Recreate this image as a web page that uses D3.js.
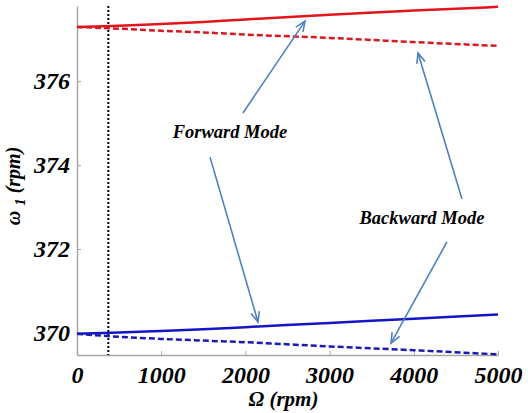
<!DOCTYPE html>
<html>
<head>
<meta charset="utf-8">
<script src="https://d3js.org/d3.v7.min.js"></script>
<style>
  body { margin: 0; background: #fff; }
</style>
</head>
<body>
<div id="chart"></div>
<script>
// spin speed Omega (rpm)
var omega = [0, 500, 1000, 1500, 2000, 3000, 4000, 5000];
// first natural frequency w1 (rpm)
var redForward  = [377.29, 377.32, 377.36, 377.41, 377.47, 377.58, 377.68, 377.77];
var redBackward = [377.29, 377.25, 377.20, 377.16, 377.11, 377.03, 376.93, 376.84];
var blueForward  = [369.98, 370.01, 370.05, 370.09, 370.14, 370.24, 370.34, 370.44];
var blueBackward = [369.98, 369.91, 369.86, 369.82, 369.78, 369.68, 369.59, 369.49];
var criticalSpeed = 372;

var xTicks = [0, 1000, 2000, 3000, 4000, 5000];
var yTicks = [370, 372, 374, 376];

// annotation labels and arrows (data units)
var labels = [
  {text: "Forward Mode", x: 1817, y: 374.79},
  {text: "Backward Mode", x: 4097, y: 372.76}
];
var arrows = [
  {x1: 1971, y1: 375.24, x2: 2708, y2: 377.43},
  {x1: 1580, y1: 374.19, x2: 2150, y2: 370.26},
  {x1: 4572, y1: 373.19, x2: 4050, y2: 376.67},
  {x1: 4394, y1: 372.17, x2: 3729, y2: 369.76}
];

var serif = "'Liberation Serif', 'Times New Roman', 'DejaVu Serif', serif";

var svgWidth = 528, svgHeight = 413;
var margin = {top: 6, right: 30, bottom: 58, left: 77};
var chartWidth = svgWidth - margin.left - margin.right;
var chartHeight = svgHeight - margin.top - margin.bottom;

var svg = d3.select("#chart").append("svg")
  .attr("width", svgWidth)
  .attr("height", svgHeight);

var chartGroup = svg.append("g")
  .attr("transform", `translate(${margin.left}, ${margin.top})`);

var xScale = d3.scaleLinear().domain([0, 5000]).range([0, chartWidth]);
var yScale = d3.scaleLinear().domain([369.476, 377.79]).range([chartHeight, 0]);

function styleText(sel, size) {
  sel.style("font-family", serif)
    .style("font-weight", "bold")
    .style("font-style", "italic")
    .style("font-size", size)
    .attr("fill", "#000");
}

// axes
var bottomAxis = d3.axisBottom(xScale).tickValues(xTicks).tickFormat(d3.format("d"))
  .tickSizeInner(-4).tickSizeOuter(0).tickPadding(11);
var leftAxis = d3.axisLeft(yScale).tickValues(yTicks).tickFormat(d3.format("d"))
  .tickSizeInner(-4).tickSizeOuter(0).tickPadding(7);

var gx = chartGroup.append("g")
  .attr("transform", `translate(0, ${chartHeight})`)
  .call(bottomAxis);
var gy = chartGroup.append("g").call(leftAxis);

[gx, gy].forEach(function(g) {
  g.select(".domain").attr("stroke", "#a6a6a6").attr("stroke-width", 1.5);
  g.selectAll(".tick line").attr("stroke", "#a6a6a6");
  styleText(g.selectAll(".tick text"), "24px");
});

// critical speed marker
chartGroup.append("line")
  .attr("x1", xScale(criticalSpeed)).attr("x2", xScale(criticalSpeed))
  .attr("y1", 0).attr("y2", chartHeight)
  .attr("stroke", "#000")
  .attr("stroke-width", 2)
  .attr("stroke-dasharray", "2,2");

var line = d3.line()
  .x(function(d) { return xScale(d[0]); })
  .y(function(d) { return yScale(d[1]); })
  .curve(d3.curveMonotoneX);

var series = [
  {vals: redForward, color: "#e3141b", dash: null},
  {vals: redBackward, color: "#d61a22", dash: "6,3"},
  {vals: blueForward, color: "#1414c8", dash: null},
  {vals: blueBackward, color: "#1a1ab4", dash: "6,3"}
];

series.forEach(function(s) {
  chartGroup.append("path")
    .datum(omega.map(function(o, i) { return [o, s.vals[i]]; }))
    .attr("fill", "none")
    .attr("stroke", s.color)
    .attr("stroke-width", 2.5)
    .attr("stroke-dasharray", s.dash)
    .attr("d", line);
});

// arrows
var arrowColor = "#4f81bd";
arrows.forEach(function(a) {
  var x1 = xScale(a.x1), y1 = yScale(a.y1), x2 = xScale(a.x2), y2 = yScale(a.y2);
  chartGroup.append("line")
    .attr("x1", x1).attr("y1", y1).attr("x2", x2).attr("y2", y2)
    .attr("stroke", arrowColor).attr("stroke-width", 1.6);
  var ang = Math.atan2(y2 - y1, x2 - x1);
  var len = 11, spread = 0.4;
  var p1 = [x2 - len * Math.cos(ang - spread), y2 - len * Math.sin(ang - spread)];
  var p2 = [x2 - len * Math.cos(ang + spread), y2 - len * Math.sin(ang + spread)];
  chartGroup.append("path")
    .attr("d", `M${p1[0]},${p1[1]}L${x2},${y2}L${p2[0]},${p2[1]}`)
    .attr("fill", "none")
    .attr("stroke", arrowColor).attr("stroke-width", 1.6);
});

var labelText = chartGroup.selectAll(".mode-label")
  .data(labels)
  .enter()
  .append("text")
    .attr("class", "mode-label")
    .attr("x", function(d) { return xScale(d.x); })
    .attr("y", function(d) { return yScale(d.y); })
    .attr("dy", ".35em")
    .attr("text-anchor", "middle")
    .text(function(d) { return d.text; });
styleText(labelText, "18.5px");

// axis titles
var xTitle = svg.append("text")
  .attr("x", margin.left + chartWidth / 2 - 4)
  .attr("y", 406)
  .attr("text-anchor", "middle")
  .text("Ω (rpm)");
styleText(xTitle, "21px");

var yTitle = svg.append("text")
  .attr("transform", "translate(20, 186) rotate(-90)")
  .attr("text-anchor", "middle");
styleText(yTitle, "20px");
yTitle.append("tspan").text("ω ");
yTitle.append("tspan").style("font-size", "15px").attr("dy", 5).text("1");
yTitle.append("tspan").attr("dy", -5).text(" (rpm)");
</script>
</body>
</html>
